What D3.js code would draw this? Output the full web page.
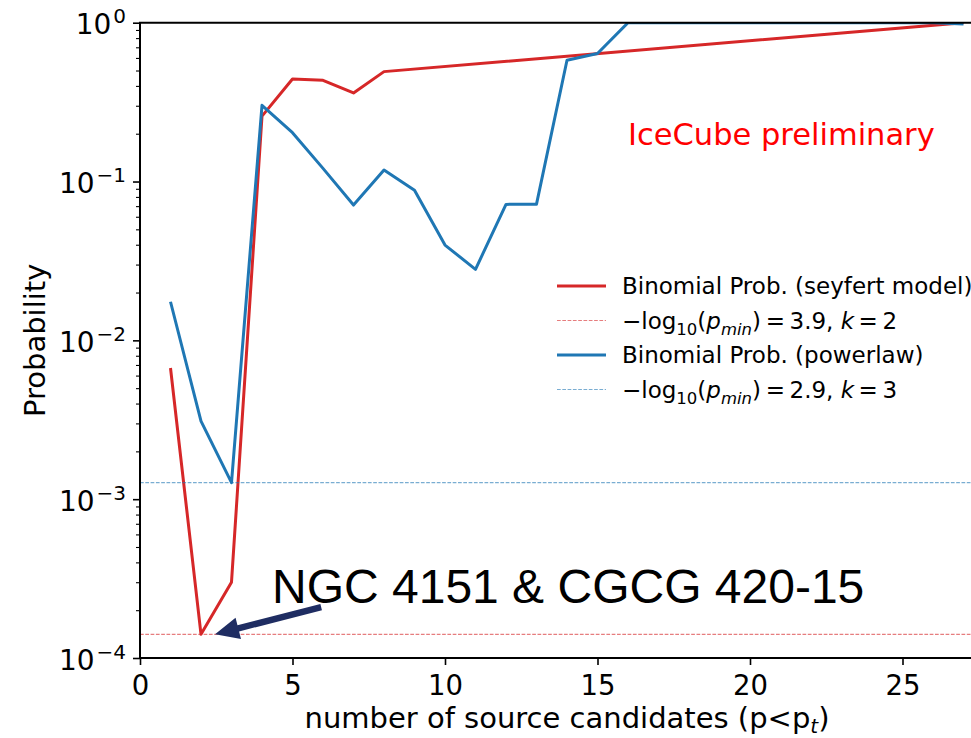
<!DOCTYPE html>
<html>
<head>
<meta charset="utf-8">
<script src="https://cdn.jsdelivr.net/npm/d3@7"></script>
<style>
	body{margin:0;background:#fff;}
	svg{display:block;font-family:'DejaVu Sans',sans-serif;}
</style>
</head>
<body>
<svg id="vis" width="971" height="738"></svg>
<script>
// values
var n_seyfert = [1,2,3,4,5,6,7,8,27];
var p_seyfert = [0.0067,0.000141,0.0003,0.258,0.442,0.434,0.361,0.492,1.0];

var n_powerlaw = [1,2,3,4,5,6,7,8,9,10,11,12,13,14,15,16,17,18,19,20,21,22,23,24,25,26,27];
var p_powerlaw = [0.0175,0.0031,0.00127,0.302,0.203,0.121,0.0711,0.118,0.088,0.0398,0.028,0.0718,0.072,0.58,0.64,1,1,1,1,1,1,1,1,1,1,1,0.98];

var pmin_seyfert = 0.000141;
var pmin_powerlaw = 0.00127;

var x_ticks = [0,5,10,15,20,25];
var y_ticks = [1e-4,1e-3,1e-2,1e-1,1];
var y_tick_exp = ['\u22124','\u22123','\u22122','\u22121','0'];

var legend_names = ['seyfert','seyfert_min','powerlaw','powerlaw_min'];
var legend_text = [
	[{t:'Binomial Prob. (seyfert model)'}],
	[{t:'\u2212log'},{t:'10',sub:1},{t:'('},{t:'p',it:1},{t:'min',it:1,sub:1},{t:')\u2009=\u20093.9, '},{t:'k',it:1},{t:'\u2009=\u20092'}],
	[{t:'Binomial Prob. (powerlaw)'}],
	[{t:'\u2212log'},{t:'10',sub:1},{t:'('},{t:'p',it:1},{t:'min',it:1,sub:1},{t:')\u2009=\u20092.9, '},{t:'k',it:1},{t:'\u2009=\u20093'}]
];

var arrow_from = [5.94, 2.09e-4];
var arrow_to = [2.46, 1.41e-4];

window.onload = function(){

	return {

		red:'#d62728',
		blue:'#1f77b4',

		left:140,
		top:22.7,
		bottom:658,
		right:994,

		draw:function(){
			var self = this;
			var svg = d3.select('#vis');

			var x = d3.scaleLinear().domain([0,28]).range([self.left,self.right]);
			var y = d3.scaleLog().domain([1e-4,1]).range([self.bottom,self.top]);

			svg.append('rect').attr('width',971).attr('height',738).attr('fill','#fff');

			svg.append('clipPath').attr('id','clip')
				.append('rect')
				.attr('x',self.left).attr('y',self.top)
				.attr('width',self.right -self.left).attr('height',self.bottom -self.top);

			var plot = svg.append('g').attr('clip-path','url(#clip)');
			var line = d3.line()
				.x(function(d){ return x(d[0]); })
				.y(function(d){ return y(d[1]); });

			var series = [
				{pts:d3.zip(n_seyfert,p_seyfert),min:pmin_seyfert,c:self.red},
				{pts:d3.zip(n_powerlaw,p_powerlaw),min:pmin_powerlaw,c:self.blue}
			];
			series.forEach(function(s){
				plot.append('path')
					.attr('d',line(s.pts))
					.attr('fill','none')
					.attr('stroke',s.c)
					.attr('stroke-width',3)
					.attr('stroke-linejoin','round');
				plot.append('line')
					.attr('x1',self.left).attr('x2',self.right)
					.attr('y1',y(s.min)).attr('y2',y(s.min))
					.attr('stroke',s.c)
					.attr('stroke-opacity',0.6)
					.attr('stroke-width',1.2)
					.attr('stroke-dasharray','3.7,1.6');
			});

			// axes
			var xa = svg.append('g')
				.attr('transform','translate(0,' +self.bottom +')')
				.call(d3.axisBottom(x).tickValues(x_ticks).tickSize(7).tickPadding(10.8).tickSizeOuter(0));
			xa.select('.domain').remove();
			xa.selectAll('line').attr('stroke','#000').attr('stroke-width',1.6);
			xa.selectAll('text').attr('font-size',27.5).attr('font-family','DejaVu Sans').attr('fill','#000');

			var minors = y.ticks().filter(function(d){ return y_ticks.indexOf(d) < 0; });
			var ym = svg.append('g')
				.attr('transform','translate(' +self.left +',0)')
				.call(d3.axisLeft(y).tickValues(minors).tickSize(4).tickFormat(''));
			ym.select('.domain').remove();
			ym.selectAll('line').attr('stroke','#000').attr('stroke-width',1.1);

			var ya = svg.append('g')
				.attr('transform','translate(' +self.left +',0)')
				.call(d3.axisLeft(y).tickValues(y_ticks).tickSize(7).tickFormat(''));
			ya.select('.domain').remove();
			ya.selectAll('line').attr('stroke','#000').attr('stroke-width',1.6);

			var lab = svg.append('g').selectAll('text.ylab')
				.data(y_ticks)
				.enter().append('text')
				.classed('ylab',true)
				.attr('x',126)
				.attr('y',function(d){ return y(d) +11.5; })
				.attr('text-anchor','end')
				.attr('font-size',28);
			lab.append('tspan').text('10');
			lab.append('tspan')
				.attr('font-size',20)
				.attr('dx',2)
				.attr('dy',-11)
				.text(function(d,i){ return y_tick_exp[i]; });

			// spines
			svg.append('path')
				.attr('d','M' +self.left +',' +self.bottom +'V' +self.top +'H' +self.right +'M' +self.left +',' +self.bottom +'H' +self.right)
				.attr('fill','none')
				.attr('stroke','#000')
				.attr('stroke-width',2)
				.attr('stroke-linecap','square');

			svg.append('text')
				.attr('x',(self.left +self.right)/2)
				.attr('y',728)
				.attr('text-anchor','middle')
				.attr('font-size',29)
				.html('number of source candidates (p&lt;p<tspan font-size="20" font-style="italic" dy="5">t</tspan><tspan dy="-5">)</tspan>');

			svg.append('text')
				.attr('transform','translate(45,' +((self.top +self.bottom)/2) +') rotate(-90)')
				.attr('text-anchor','middle')
				.attr('font-size',29)
				.text('Probability');

			svg.append('text')
				.attr('x',x(16))
				.attr('y',y(0.17))
				.attr('font-size',30.5)
				.attr('fill','#ff0000')
				.text('IceCube preliminary');

			// legend
			var leg = svg.append('g').selectAll('g.leg')
				.data(legend_names)
				.enter().append('g')
				.classed('leg',true)
				.attr('transform',function(d,i){ return 'translate(557,' +(286 +i*34.5) +')'; });
			leg.append('line')
				.attr('x1',0).attr('x2',49)
				.attr('stroke',function(d,i){ return i < 2 ? self.red : self.blue; })
				.attr('stroke-width',function(d,i){ return i%2 ? 1.2 : 3; })
				.attr('stroke-opacity',function(d,i){ return i%2 ? 0.6 : 1; })
				.attr('stroke-dasharray',function(d,i){ return i%2 ? '3.7,1.6' : null; });
			leg.append('text')
				.attr('x',65)
				.attr('y',8)
				.attr('font-size',23)
				.each(function(d,i){
					var t = d3.select(this), prev = 0;
					legend_text[i].forEach(function(seg){
						var dy = (seg.sub ? 6 : 0) -prev;
						prev = seg.sub ? 6 : 0;
						t.append('tspan')
							.attr('dy',dy)
							.attr('font-size',seg.sub ? 16.5 : 23)
							.attr('font-style',seg.it ? 'italic' : null)
							.text(seg.t);
					});
				});

			// annotation
			svg.append('text')
				.attr('x',272)
				.attr('y',603)
				.attr('font-family','Liberation Sans, Arial, sans-serif')
				.attr('font-size',48)
				.text('NGC 4151 & CGCG 420-15');

			var x0 = x(arrow_from[0]), y0 = y(arrow_from[1]),
				x1 = x(arrow_to[0]), y1 = y(arrow_to[1]);
			var len = Math.hypot(x1 -x0,y1 -y0),
				ux = (x1 -x0)/len, uy = (y1 -y0)/len,
				px = -uy, py = ux,
				hl = 24, hw = 11, sw = 3.2;
			var bx = x1 -ux*hl, by = y1 -uy*hl;
			var pts = [
				[x0 +px*sw, y0 +py*sw],
				[bx +px*sw, by +py*sw],
				[bx +px*hw, by +py*hw],
				[x1, y1],
				[bx -px*hw, by -py*hw],
				[bx -px*sw, by -py*sw],
				[x0 -px*sw, y0 -py*sw]
			];
			svg.append('polygon')
				.attr('points',pts.map(function(p){ return p.join(','); }).join(' '))
				.attr('fill','#1f2d62');
		}
	}
}().draw();
</script>
</body>
</html>
